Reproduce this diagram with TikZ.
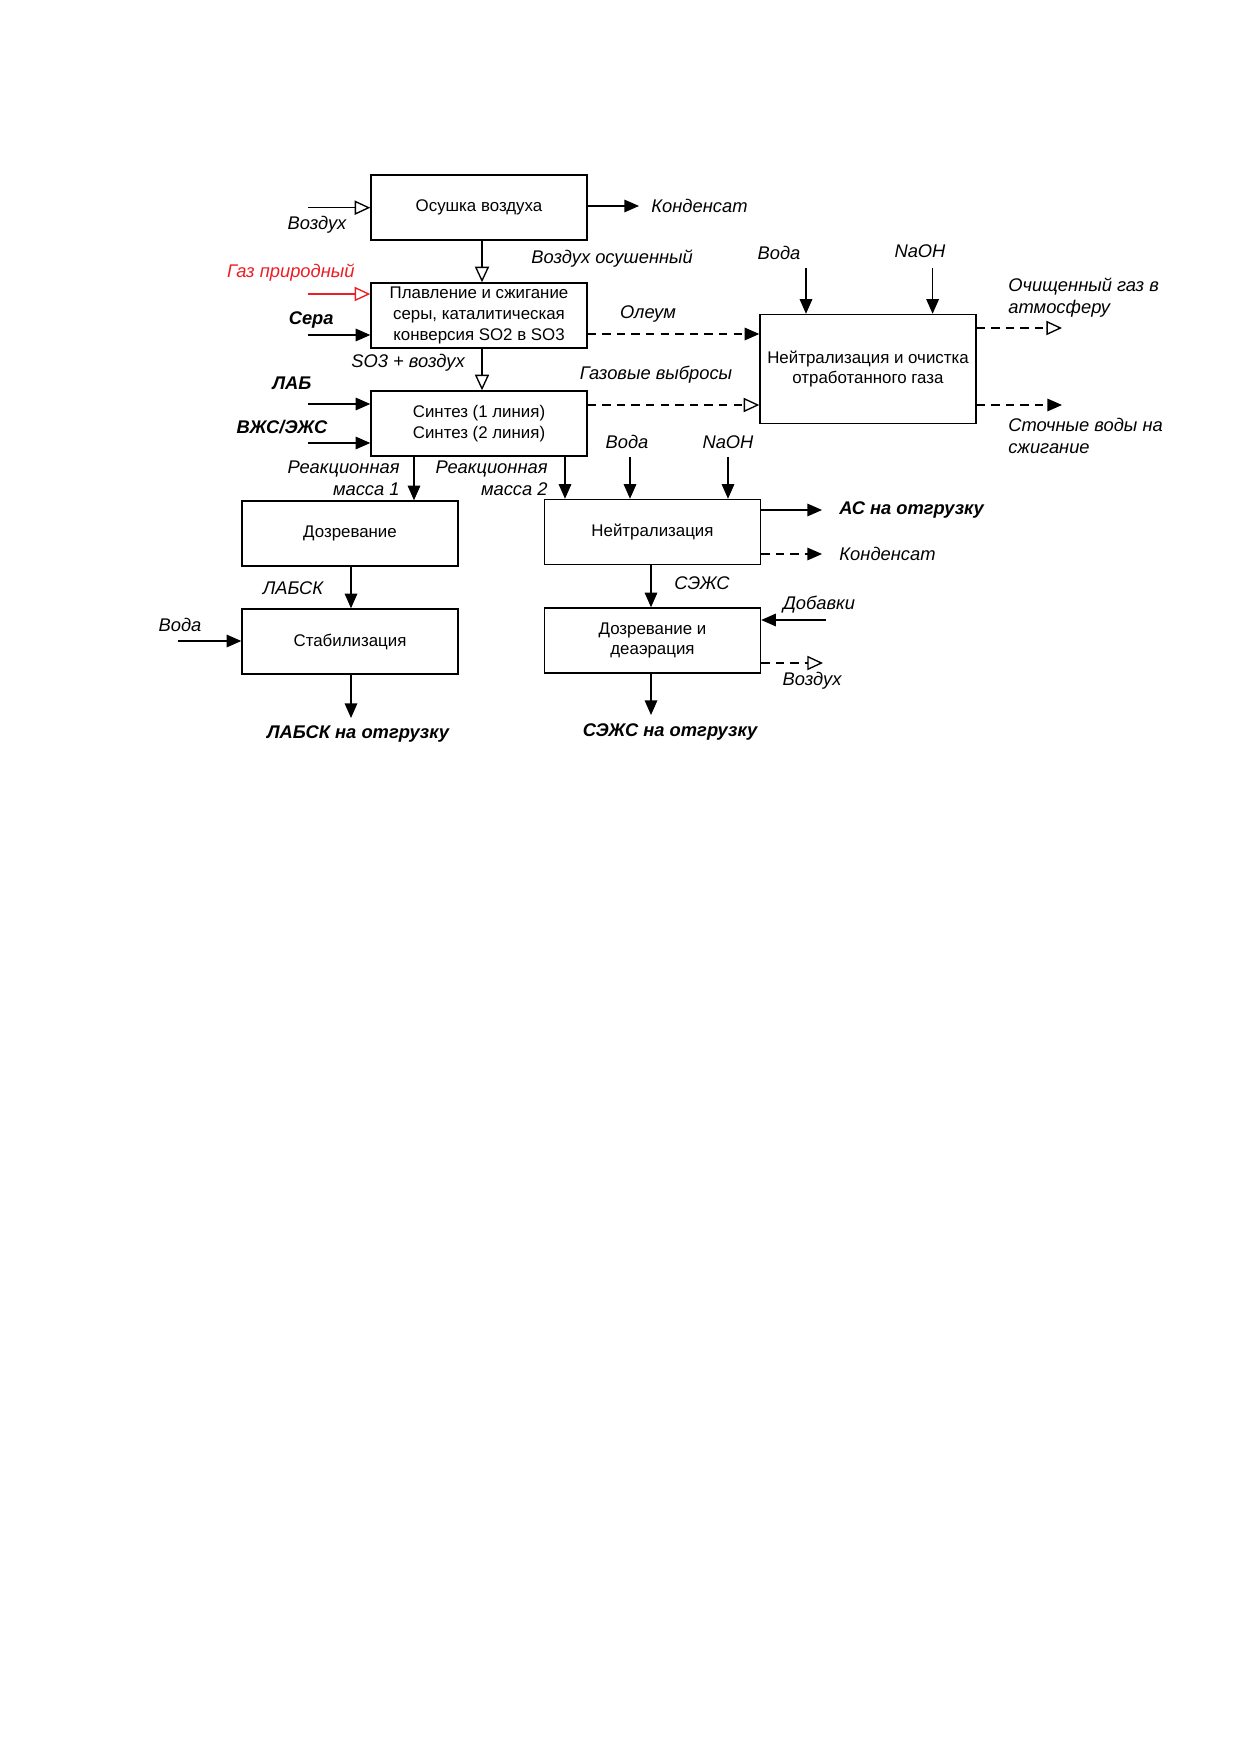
\documentclass[tikz,border=0pt]{standalone}
\usepackage{fontspec}
\setmainfont{Liberation Sans}
\usetikzlibrary{arrows.meta}
\definecolor{gasred}{RGB}{235,30,36}
\tikzset{
  box/.style={draw, line width=0.7pt, minimum width=103.7pt, minimum height=31.2pt, inner sep=0pt, align=center, font=\fontsize{8.1}{10}\selectfont},
  lbl/.style={inner sep=0pt, font=\fontsize{8.8}{10.5}\selectfont\itshape},
  blbl/.style={inner sep=0pt, font=\fontsize{8.8}{10.5}\selectfont\bfseries\itshape},
  conn/.style={line width=0.65pt},
  fa/.style={conn, -{Triangle[length=7pt,width=6pt]}},
  oa/.style={conn, -{Triangle[open,length=7.5pt,width=6.8pt]}},
  dsh/.style={dash pattern=on 4pt off 3pt},
}
\begin{document}
\begin{tikzpicture}[x=0.4801pt,y=-0.4801pt]
\useasboundingbox (0,0) rectangle (1240,1754);
% boxes
\node[box] (b1) at (479,207.5) {Осушка воздуха};
\node[box] (b2) at (479,315.5) {Плавление и сжигание\\серы, каталитическая\\конверсия SO2 в SO3};
\node[box] (b3) at (479,423.5) {Синтез (1 линия)\\Синтез (2 линия)};
\node[box, minimum height=52.3pt] (b4) at (868,369) {Нейтрализация и очистка\\отработанного газа};
\node[box] (b5) at (350,533.5) {Дозревание};
\node[box] (b6) at (350,641.5) {Стабилизация};
\node[box] (b7) at (652.5,532) {Нейтрализация};
\node[box] (b8) at (652.5,640.5) {Дозревание и\\деаэрация};
% free ends
\coordinate (vin) at (308,207.7);
\coordinate (k1) at (639,206);
\coordinate (c12) at (482,0);
\coordinate (gin) at (308,294);
\coordinate (sin) at (308,335);
\coordinate (ol) at (0,334);
\coordinate (gv) at (0,405);
\coordinate (lab) at (308,404);
\coordinate (vzh) at (308,443);
\coordinate (w4) at (806,268);
\coordinate (n4) at (932.6,268);
\coordinate (atm) at (1062,328);
\coordinate (stv) at (1062,405);
\coordinate (rm1) at (414,0);
\coordinate (rm2) at (565,0);
\coordinate (w7) at (630,457);
\coordinate (n7) at (728,457);
\coordinate (ac) at (822,510);
\coordinate (k7) at (822,554);
\coordinate (c78) at (651,0);
\coordinate (dob) at (826,620);
\coordinate (air8) at (823,663);
\coordinate (out8) at (651,715);
\coordinate (c56) at (351,0);
\coordinate (w6) at (178,641);
\coordinate (out6) at (351,718);
% connectors
\draw[oa] (vin) -- (vin -| b1.west);
\draw[fa] (k1 -| b1.east) -- (k1);
\draw[oa] (b1.south -| c12) -- (b2.north -| c12);
\draw[oa, draw=gasred] (gin) -- (gin -| b2.west);
\draw[fa] (sin) -- (sin -| b2.west);
\draw[fa, dsh] (ol -| b2.east) -- (ol -| b4.west);
\draw[oa] (b2.south -| c12) -- (b3.north -| c12);
\draw[oa, dsh] (gv -| b3.east) -- (gv -| b4.west);
\draw[fa] (lab) -- (lab -| b3.west);
\draw[fa] (vzh) -- (vzh -| b3.west);
\draw[fa] (w4) -- (w4 |- b4.north);
\draw[fa] (n4) -- (n4 |- b4.north);
\draw[oa, dsh] (atm -| b4.east) -- (atm);
\draw[fa, dsh] (stv -| b4.east) -- (stv);
\draw[fa] (b3.south -| rm1) -- (b5.north -| rm1);
\draw[fa] (b3.south -| rm2) -- (b7.north -| rm2);
\draw[fa] (w7) -- (w7 |- b7.north);
\draw[fa] (n7) -- (n7 |- b7.north);
\draw[fa] (ac -| b7.east) -- (ac);
\draw[fa, dsh] (k7 -| b7.east) -- (k7);
\draw[fa] (b7.south -| c78) -- (b8.north -| c78);
\draw[fa] (dob) -- (dob -| b8.east);
\draw[oa, dsh] (air8 -| b8.east) -- (air8);
\draw[fa] (b8.south -| out8) -- (out8);
\draw[fa] (b5.south -| c56) -- (b6.north -| c56);
\draw[fa] (w6) -- (w6 -| b6.west);
\draw[fa] (b6.south -| out6) -- (out6);
% labels
\node[lbl] (l1) at (317,225) {Воздух};
\node[lbl, anchor=west] (l2) at (651,205.7) {Конденсат};
\node[lbl, anchor=west] (l3) at (531,259) {Воздух осушенный};
\node[lbl, anchor=east, text=gasred] (l4) at (355,272.7) {Газ природный};
\node[blbl, anchor=east] (l5) at (334,320) {Сера};
\node[lbl] (l6) at (648,314) {Олеум};
\node[lbl] (l7) at (408,363) {SO3 + воздух};
\node[lbl] (l8) at (656,375) {Газовые выбросы};
\node[blbl] (l9) at (292,383) {ЛАБ};
\node[blbl] (l10) at (282,427) {ВЖС/ЭЖС};
\node[lbl] (l11) at (779,253) {Вода};
\node[lbl] (l12) at (920,251) {NaOH};
\node[lbl, anchor=west, align=left] (l13) at (1008,297.5) {Очищенный газ в\\атмосферу};
\node[lbl, anchor=west, align=left] (l14) at (1008,436) {Сточные воды на\\сжигание};
\node[lbl, anchor=east, align=right] (l15) at (400,478) {Реакционная\\масса 1};
\node[lbl, anchor=east, align=right] (l16) at (548,478) {Реакционная\\масса 2};
\node[lbl] (l17) at (627,442) {Вода};
\node[lbl] (l18) at (728,442) {NaOH};
\node[lbl] (l19) at (293,588) {ЛАБСК};
\node[lbl] (l20) at (180,625) {Вода};
\node[blbl] (l21) at (358,734) {ЛАБСК на отгрузку};
\node[blbl, anchor=west] (l22) at (839,510) {АС на отгрузку};
\node[lbl, anchor=west] (l23) at (839,554) {Конденсат};
\node[lbl] (l24) at (702,583) {СЭЖС};
\node[lbl] (l25) at (819,605) {Добавки};
\node[lbl] (l26) at (812,681) {Воздух};
\node[blbl] (l27) at (670,732) {СЭЖС на отгрузку};
\end{tikzpicture}
\end{document}
